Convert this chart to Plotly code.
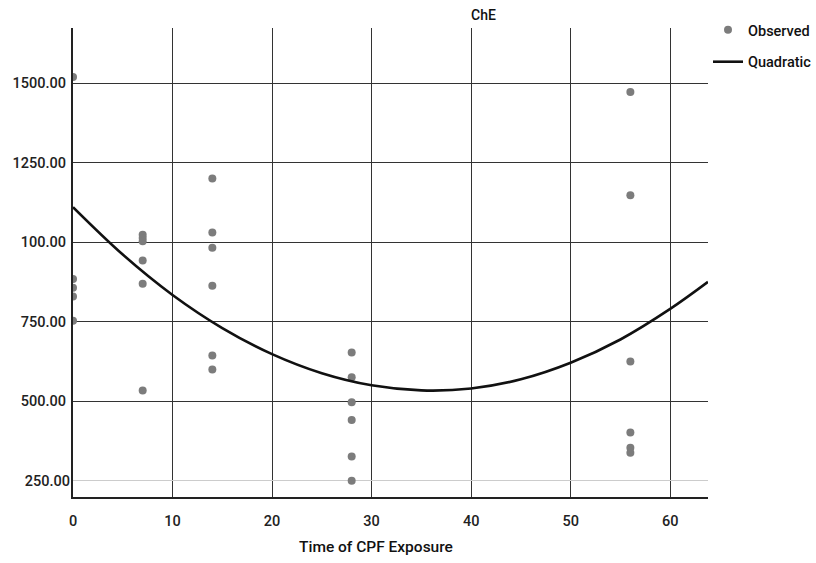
import plotly.graph_objects as go

# Observed data (time of CPF exposure, ChE)
obs_x = [0, 0, 0, 0, 0,
         7, 7, 7, 7, 7, 7,
         14, 14, 14, 14, 14, 14,
         28, 28, 28, 28, 28, 28,
         56, 56, 56, 56, 56, 56]
obs_y = [1519, 884, 857, 829, 753,
         1023, 1013, 1003, 942, 869, 534,
         1200, 1030, 982, 863, 644, 600,
         653, 575, 497, 441, 326, 250,
         1472, 1147, 625, 402, 354, 338]

# Quadratic fit curve
quad_x = [0, 5, 10, 15, 20, 25, 30, 35, 40, 45, 50, 55, 60, 63.8]
quad_y = [1110, 961, 834, 730, 648, 588, 550, 534, 540, 569, 621, 694, 790, 875]

x_ticks = [0, 10, 20, 30, 40, 50, 60]
x_ticktext = ["0", "10", "20", "30", "40", "50", "60"]
y_ticks_dark = [500, 750, 1000, 1250, 1500]
y_ticktext_dark = ["500.00", "750.00", "100.00", "1250.00", "1500.00"]
y_ticks_light = [250]
y_ticktext_light = ["250.00"]

FONT = "Roboto"
fig = go.Figure()
fig.add_trace(go.Scatter(
    x=obs_x, y=obs_y, mode="markers", name="Observed",
    marker=dict(color="#7c7c7c", size=8), legendgroup="a",
))
fig.add_trace(go.Scatter(
    x=quad_x, y=quad_y, mode="lines", name="Quadratic",
    line=dict(color="#111111", width=2.6, shape="spline"), legendgroup="b",
))
# invisible helper trace so the overlay axis is drawn
fig.add_trace(go.Scatter(
    x=[quad_x[0]], y=[quad_y[0]], yaxis="y2", mode="markers",
    marker=dict(opacity=0), showlegend=False, hoverinfo="skip",
))

yrange = [199, 1673]
fig.update_layout(
    width=816, height=563,
    margin=dict(l=73, r=108, t=28, b=66, autoexpand=False),
    paper_bgcolor="white", plot_bgcolor="white",
    font=dict(family=FONT, size=14.5, color="#222222", weight=500),
    showlegend=True,
    legend=dict(x=1.0, y=1.03, xanchor="left", yanchor="top",
                tracegroupgap=10, font=dict(size=14.5, color="#111111"),
                bgcolor="rgba(0,0,0,0)"),
    xaxis=dict(range=[0, 63.8], tickvals=x_ticks, ticktext=x_ticktext,
               showgrid=True, gridcolor="#333333", gridwidth=1.3,
               showline=True, linecolor="#222222", linewidth=2,
               zeroline=False, ticks="", ticklabelstandoff=10, automargin=False),
    yaxis=dict(range=yrange, tickvals=y_ticks_dark, ticktext=y_ticktext_dark,
               showgrid=True, gridcolor="#333333", gridwidth=1.3,
               showline=True, linecolor="#222222", linewidth=2,
               zeroline=False, ticks="", ticklabelstandoff=2, automargin=False),
    yaxis2=dict(range=yrange, overlaying="y", side="left",
                tickvals=y_ticks_light, ticktext=y_ticktext_light,
                showgrid=True, gridcolor="#cccccc", gridwidth=1.3,
                showline=False, zeroline=False, ticks="", ticklabelstandoff=2,
                automargin=False),
    annotations=[
        dict(text="ChE", xref="paper", yref="paper",
             x=0.647, y=1.028, xanchor="center", yanchor="middle",
             showarrow=False, font=dict(size=14, color="#111111")),
        dict(text="Time of CPF Exposure", xref="paper", yref="paper",
             x=0.477, y=-0.107, xanchor="center", yanchor="middle",
             showarrow=False, font=dict(size=15.5, color="#111111")),
    ],
)
fig.write_html("out.html", config={"displayModeBar": False},
               post_script="document.body.style.margin='0';document.body.style.overflow='hidden';")
